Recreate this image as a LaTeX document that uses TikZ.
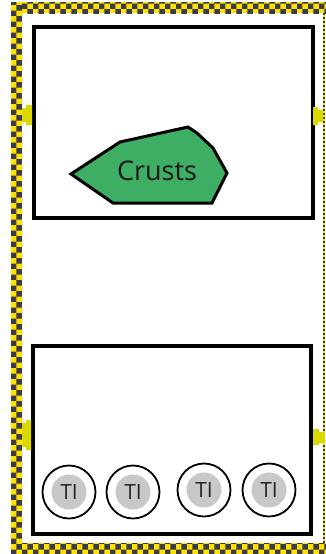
\documentclass[tikz,border=0pt]{standalone}
\usepackage{fontspec}
\setmainfont{Open Sans}
\usetikzlibrary{patterns}
\definecolor{chkyellow}{HTML}{FFE200}
\definecolor{chkdark}{HTML}{3A3A48}
\definecolor{tabyellow}{HTML}{D9D900}
\definecolor{crustgreen}{HTML}{3DAE63}
\definecolor{tigray}{HTML}{C8C8C8}
\tikzset{
  chk/.style={fill=chkyellow, postaction={pattern=checkerboard, pattern color=chkdark}},
  panel/.style={draw=black, line width=4pt, fill=white, inner sep=0pt},
  tab/.style={fill=tabyellow, draw=none},
  tiouter/.style={circle, draw=black, line width=1.8pt, fill=white, minimum size=53pt, inner sep=0pt},
  tiinner/.style={circle, fill=tigray, minimum size=35pt, inner sep=0pt, text=black!85, font=\fontsize{21}{21}\selectfont},
}
\begin{document}
\begin{tikzpicture}[x=1pt,y=-1pt]
\useasboundingbox (0,0) rectangle (326,554);
% checkered frame
\path[chk] (11,2) rectangle (326,13);
\path[chk] (11,2) rectangle (22,554);
\path[chk] (11,543) rectangle (326,554);
\draw[chkyellow, line width=1.6pt] (324,13) -- (324,543);
\draw[chkdark, line width=1.6pt, dash pattern=on 2pt off 2pt] (324,13) -- (324,543);
% panels
\node[panel, minimum width=278.5pt, minimum height=191pt] (top) at (173.25,122.5) {};
\node[panel, minimum width=277.5pt, minimum height=188.5pt] (bot) at (171.75,439.75) {};
% tabs
\path[tab] (22,108) -- (26,108) -- (26,105) -- (32,105) -- (32,125) -- (26,125) -- (26,122) -- (22,122) -- cycle;
\path[tab] (313,107) -- (318,107) -- (318,110) -- (323,110) -- (323,122) -- (318,122) -- (318,125) -- (313,125) -- cycle;
\path[tab] (22,423) -- (26,423) -- (26,420) -- (31,420) -- (31,450) -- (26,450) -- (26,447) -- (22,447) -- cycle;
\path[tab] (313,429) -- (319,429) -- (319,432) -- (325,432) -- (325,443) -- (319,443) -- (319,445) -- (313,445) -- cycle;
% crusts
\draw[fill=crustgreen, line width=3pt, line join=miter] (71,174) -- (120,142) -- (188,127) -- (197,133) -- (213,148) -- (227,173) -- (212,203) -- (113,203) -- cycle;
\node[font=\fontsize{27}{27}\selectfont, text=black!90] (crusts) at (157,171) {Crusts};
% TI circles
\foreach \n/\x/\y in {1/69/492, 2/133/492, 3/204/490, 4/269/490} {
  \node[tiouter] (ti\n) at (\x,\y) {};
  \node[tiinner] (tiin\n) at (ti\n) {TI};
}
\end{tikzpicture}
\end{document}
